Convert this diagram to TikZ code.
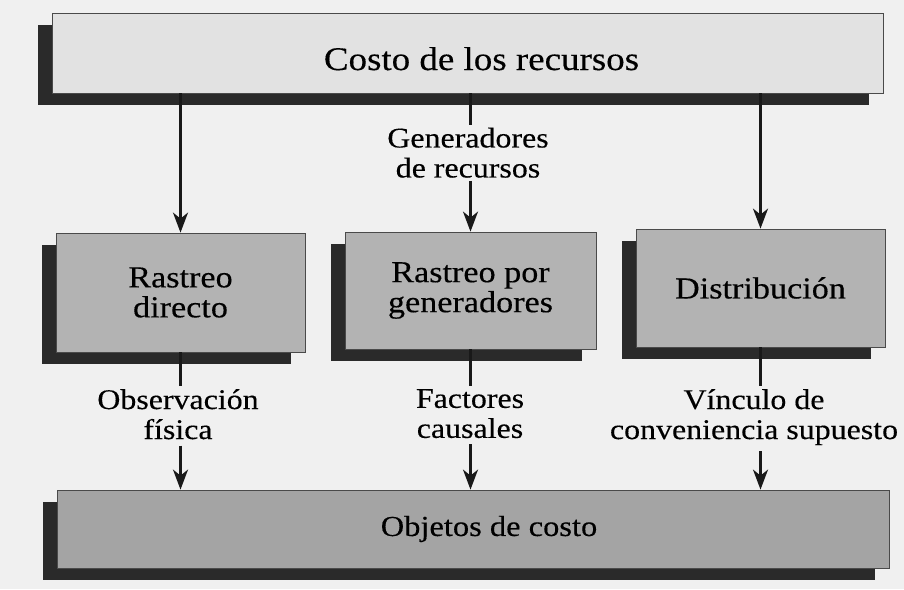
\documentclass[tikz,border=0pt]{standalone}
\usepackage{fontspec}
\setmainfont{Liberation Serif}[FakeStretch=1.12, FakeBold=0.3]
\usetikzlibrary{arrows.meta,shadows}
\definecolor{bgc}{HTML}{F0F0F0}
\definecolor{topfill}{HTML}{E2E2E2}
\definecolor{midfill}{HTML}{B3B3B3}
\definecolor{botfill}{HTML}{A4A4A4}
\definecolor{shadowc}{HTML}{2A2A2A}
\definecolor{edgec}{HTML}{4A4A4A}
\begin{document}
\begin{tikzpicture}[x=1pt,y=-1pt,
  boxbase/.style={draw=edgec, line width=0.8pt, inner sep=0pt, align=center,
    drop shadow={shadow xshift=-14pt, shadow yshift=-12pt, fill=shadowc, opacity=1, draw=none}},
  topbox/.style={boxbase, fill=topfill, minimum width=831pt, minimum height=80pt,
    font=\fontsize{33}{33}\selectfont},
  midbox/.style={boxbase, fill=midfill, minimum width=249pt, minimum height=118pt,
    font=\fontsize{30.5}{30}\selectfont},
  botbox/.style={boxbase, fill=botfill, minimum width=832pt, minimum height=78pt,
    font=\fontsize{29}{29}\selectfont},
  lbl/.style={align=center, inner xsep=0pt, inner ysep=3pt, anchor=north,
    font=\fontsize{28.5}{30}\selectfont},
  conn/.style={line width=2.4pt, draw=black!90},
  arr/.style={conn, -{Stealth[length=20pt, width=15pt, inset=6pt]}}
]
\useasboundingbox (0,0) rectangle (904,589);
\fill[bgc] (0,0) rectangle (904,589);

% boxes
\node[topbox] (top) at (467.5,53) {\hspace*{28pt}\raisebox{-17pt}[0pt][0pt]{Costo de los recursos}};
\node[midbox, minimum height=119pt] (b1) at (180.5,292.5) {Rastreo\\directo};
\node[midbox, minimum width=251pt, minimum height=117pt] (b2) at (470.5,290.5) {Rastreo por\\generadores};
\node[midbox] (b3) at (760.5,288) {Distribución};
\node[botbox] (bot) at (473,529) {\hspace*{32pt}Objetos de costo};

% labels
\node[lbl] (gen) at (468,124.5) {Generadores\\de recursos};
\node[lbl] (obs) at (178,386) {Observación\\física};
\node[lbl] (fac) at (470,386) {Factores\\causales};
\node[lbl] (vin) at (754,386) {Vínculo de\\conveniencia supuesto};

% connectors from the top
\draw[arr] (top.south -| b1.north) -- (b1.north);
\draw[conn] (top.south -| b2.north) -- (gen.north -| b2.north);
\draw[arr] (gen.south -| b2.north) -- (b2.north);
\draw[arr] (top.south -| b3.north) -- (b3.north);

% connectors to the bottom
\draw[conn] (b1.south) -- (b1.south |- obs.north);
\draw[arr] ([yshift=-3pt]b1.south |- obs.south) -- (b1.south |- bot.north);
\draw[conn] (b2.south) -- (b2.south |- fac.north);
\draw[arr] ([yshift=-3pt]b2.south |- fac.south) -- (b2.south |- bot.north);
\draw[conn] (b3.south) -- (b3.south |- vin.north);
\draw[arr] ([yshift=-3pt]b3.south |- vin.south) -- (b3.south |- bot.north);
\end{tikzpicture}
\end{document}
